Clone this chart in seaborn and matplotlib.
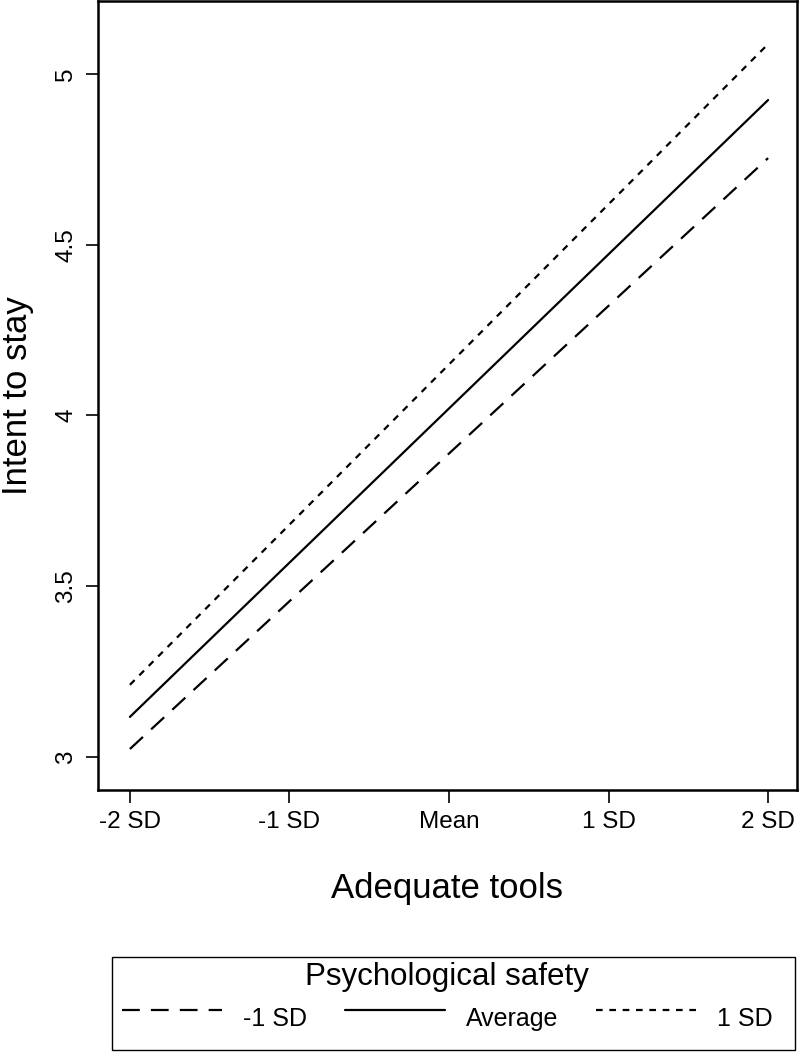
import numpy as np
import pandas as pd
import matplotlib
matplotlib.use('Agg')
import matplotlib.pyplot as plt
from matplotlib.lines import Line2D
from matplotlib.legend_handler import HandlerLine2D
from matplotlib.patches import Rectangle
import seaborn as sns

# values: predicted intent to stay at -2 SD and +2 SD of adequate tools
tool_levels = [-2, 2]
tick_pos = [-2, -1, 0, 1, 2]
tick_labels = ['-2 SD', '-1 SD', 'Mean', '1 SD', '2 SD']
low_safety = [3.023, 4.754]
avg_safety = [3.117, 4.924]
high_safety = [3.211, 5.088]
groups = ['-1 SD', 'Average', '1 SD']

rows = []
for g, vals in zip(groups, [low_safety, avg_safety, high_safety]):
    for x, y in zip(tool_levels, vals):
        rows.append({'Adequate tools': x, 'Intent to stay': y, 'Psychological safety': g})
df = pd.DataFrame(rows)

sns.set_style('white')
plt.rcParams['font.family'] = ['Liberation Sans', 'DejaVu Sans']
plt.rcParams['text.color'] = 'black'
plt.rcParams['axes.labelcolor'] = 'black'
plt.rcParams['xtick.color'] = 'black'
plt.rcParams['ytick.color'] = 'black'

fig = plt.figure(figsize=(8, 10.53), dpi=100)
ax = fig.add_axes([0.1225, 0.2498, 0.8735, 0.7492])

sns.lineplot(data=df, x='Adequate tools', y='Intent to stay', style='Psychological safety',
             style_order=groups, dashes={'-1 SD': (8, 5), 'Average': '', '1 SD': (3, 3)},
             color='black', linewidth=1.6, ax=ax)

ax.set_xlim(-2.2, 2.18)
ax.set_ylim(2.903, 5.214)
ax.set_xticks(tick_pos)
ax.set_xticklabels(tick_labels)
ax.set_yticks([3, 3.5, 4, 4.5, 5])
ax.set_yticklabels(['3', '3.5', '4', '4.5', '5'], rotation=90, va='center')
ax.tick_params(axis='both', direction='out', length=9, width=1.2, color='black',
               labelcolor='black', labelsize=17.5, pad=6, left=True, bottom=True)
for s in ax.spines.values():
    s.set_visible(True)
    s.set_color('black')
    s.set_linewidth(1.8)

ax.set_xlabel('Adequate tools', fontsize=25, labelpad=28, color='black')
ax.set_ylabel('Intent to stay', fontsize=25, labelpad=15, color='black')


# keys sit a bit higher than their labels, as in the original
class RaisedLine(HandlerLine2D):
    def create_artists(self, *args, **kwargs):
        arts = super().create_artists(*args, **kwargs)
        for a in arts:
            a.set_ydata(np.asarray(a.get_ydata()) + 5)
        return arts


handles, labels = ax.get_legend_handles_labels()
ax.get_legend().remove()
leg = fig.legend(handles, labels, title='Psychological safety', ncol=3,
                 loc='upper left', bbox_to_anchor=(122 / 800, 1 - 962 / 1053),
                 borderaxespad=0, borderpad=0, fontsize=18, title_fontsize=22.5,
                 handlelength=4.0, handletextpad=0.85, columnspacing=1.5,
                 labelspacing=0.6, frameon=False, labelcolor='black',
                 handler_map={Line2D: RaisedLine()})
leg.get_title().set_color('black')
for line in leg.get_lines():
    line.set_linewidth(1.6)

fig.patches.append(Rectangle((112 / 800, 3 / 1053), 683 / 800, 93 / 1053,
                             transform=fig.transFigure, fill=False,
                             edgecolor='black', linewidth=1.0))

fig.savefig('out.png', dpi=100)
